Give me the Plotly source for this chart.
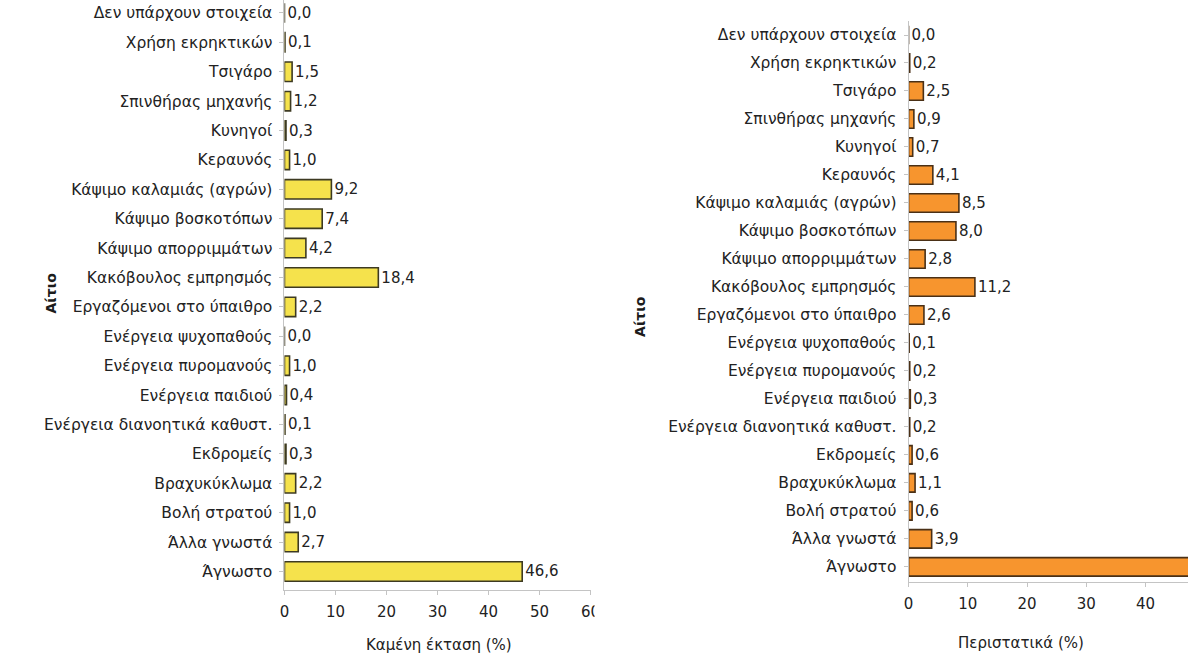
import plotly.graph_objects as go

# Causes of forest fires (top to bottom)
causes = [
    "Δεν υπάρχουν στοιχεία", "Χρήση εκρηκτικών", "Τσιγάρο", "Σπινθήρας μηχανής",
    "Κυνηγοί", "Κεραυνός", "Κάψιμο καλαμιάς (αγρών)", "Κάψιμο βοσκοτόπων",
    "Κάψιμο απορριμμάτων", "Κακόβουλος εμπρησμός", "Εργαζόμενοι στο ύπαιθρο",
    "Ενέργεια ψυχοπαθούς", "Ενέργεια πυρομανούς", "Ενέργεια παιδιού",
    "Ενέργεια διανοητικά καθυστ.", "Εκδρομείς", "Βραχυκύκλωμα", "Βολή στρατού",
    "Άλλα γνωστά", "Άγνωστο",
]
# Share of burned area per cause (%)
burned_area = [0.0, 0.1, 1.5, 1.2, 0.3, 1.0, 9.2, 7.4, 4.2, 18.4,
               2.2, 0.0, 1.0, 0.4, 0.1, 0.3, 2.2, 1.0, 2.7, 46.6]
# Share of incidents per cause (%)
incidents = [0.0, 0.2, 2.5, 0.9, 0.7, 4.1, 8.5, 8.0, 2.8, 11.2,
             2.6, 0.1, 0.2, 0.3, 0.2, 0.6, 1.1, 0.6, 3.9, 51.5]
x_ticks = [0, 10, 20, 30, 40, 50, 60]

W, H = 1198, 666
FONT = "DejaVu Sans"
TXT = "#222222"
AXIS = "#c4c4c4"


def px_x(p):
    return p / W


def px_y(p):
    return 1 - p / H


def fmt(v):
    return f"{v:.1f}".replace(".", ",")


fig = go.Figure()

fig.add_trace(go.Bar(
    x=burned_area, y=causes, orientation="h", width=0.66,
    marker=dict(color="#f5e24c", line=dict(color="#3d3a22", width=1.6)),
    text=[fmt(v) for v in burned_area], textposition="outside",
    textfont=dict(family=FONT, size=15, color=TXT),
    cliponaxis=False, xaxis="x", yaxis="y", showlegend=False,
))
fig.add_trace(go.Bar(
    x=incidents, y=causes, orientation="h", width=0.66,
    marker=dict(color="#f7952e", line=dict(color="#4a3016", width=1.6)),
    text=[fmt(v) for v in incidents], textposition="outside",
    textfont=dict(family=FONT, size=15, color=TXT),
    cliponaxis=True, xaxis="x2", yaxis="y2", showlegend=False,
))

xcommon = dict(
    tickvals=x_ticks, showline=True, linecolor=AXIS, linewidth=1,
    ticks="outside", ticklen=4, tickcolor=AXIS, showgrid=False, zeroline=False,
    tickfont=dict(family=FONT, size=15, color=TXT), ticklabelstandoff=4,
    fixedrange=True,
)
ycommon = dict(
    type="category", categoryorder="array", categoryarray=causes,
    showline=True, linecolor=AXIS, linewidth=1, ticks="outside", ticklen=4,
    tickcolor=AXIS, showgrid=False, zeroline=False,
    tickfont=dict(family=FONT, size=15.5, color=TXT), ticklabelstandoff=4,
)

fig.update_layout(
    width=W, height=H, margin=dict(l=0, r=0, t=0, b=0),
    paper_bgcolor="white", plot_bgcolor="white", bargap=0.3,
    xaxis=dict(domain=[px_x(283), px_x(593)], range=[0, 60], anchor="y", **xcommon),
    yaxis=dict(domain=[px_y(590), 1], range=[19.63, -0.44], anchor="x", **ycommon),
    xaxis2=dict(domain=[px_x(915), 1], range=[0, (W - 915) / 6.0], anchor="y2", **xcommon),
    yaxis2=dict(domain=[px_y(582), px_y(21)], range=[19.54, -0.5], anchor="x2", **ycommon),
    shapes=[
        # gap between the two panels
        dict(type="rect", xref="paper", yref="paper", x0=px_x(597), x1=px_x(640),
             y0=0, y1=1, fillcolor="white", line=dict(width=0), layer="above"),
    ],
    annotations=[
        dict(text="Καμένη έκταση (%)", x=px_x(439), y=px_y(656), xref="paper", yref="paper",
             showarrow=False, font=dict(family=FONT, size=15, color=TXT)),
        dict(text="Περιστατικά (%)", x=px_x(1095), y=px_y(654), xref="paper", yref="paper",
             showarrow=False, font=dict(family=FONT, size=15, color=TXT)),
        dict(text="<b>Αίτιο</b>", x=px_x(36), y=px_y(293), xref="paper", yref="paper",
             showarrow=False, textangle=-90, font=dict(family=FONT, size=14, color="#1c1c1c")),
        dict(text="<b>Αίτιο</b>", x=px_x(643), y=px_y(316), xref="paper", yref="paper",
             showarrow=False, textangle=-90, font=dict(family=FONT, size=14, color="#1c1c1c")),
    ],
)

fig.write_html("out.html")
